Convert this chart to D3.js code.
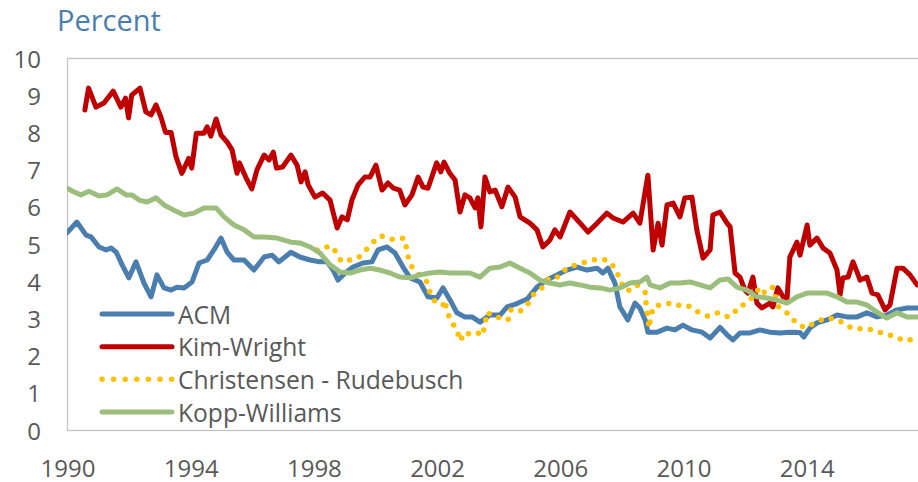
<!DOCTYPE html>
<html>
<head>
<meta charset="utf-8">
<script src="https://cdn.jsdelivr.net/npm/d3@7"></script>
<style>
  body { margin: 0; background: #fff; }
  svg { display: block; font-family: "Open Sans", "Noto Sans", sans-serif; }
  .tick-label { fill: #595959; font-size: 24px; }
  .legend-label { fill: #595959; font-size: 24.6px; }
</style>
</head>
<body>
<svg></svg>
<script>
// series values, [year, percent]
var acm = [
  [1990.0,5.30],[1990.32,5.59],[1990.62,5.24],[1990.78,5.19],[1991.04,4.92],[1991.27,4.84],
  [1991.43,4.89],[1991.6,4.78],[1991.79,4.44],[1992.01,4.09],[1992.24,4.52],[1992.5,3.95],
  [1992.73,3.58],[1992.92,4.17],[1993.15,3.82],[1993.38,3.76],[1993.57,3.84],[1993.8,3.82],
  [1994.06,3.98],[1994.29,4.49],[1994.55,4.57],[1994.77,4.84],[1995.0,5.16],[1995.2,4.78],
  [1995.42,4.57],[1995.75,4.57],[1996.07,4.30],[1996.4,4.65],[1996.66,4.70],[1996.88,4.52],
  [1997.27,4.78],[1997.56,4.65],[1997.89,4.57],[1998.21,4.52],[1998.44,4.52],[1998.64,4.30],
  [1998.8,4.03],[1999.03,4.22],[1999.29,4.38],[1999.61,4.49],[1999.9,4.52],[2000.1,4.84],
  [2000.39,4.92],[2000.65,4.76],[2000.91,4.38],[2001.14,4.09],[2001.46,3.98],[2001.72,3.58],
  [2002.01,3.55],[2002.21,3.82],[2002.44,3.49],[2002.66,3.15],[2002.92,3.04],[2003.15,3.04],
  [2003.41,2.90],[2003.73,3.09],[2004.06,3.09],[2004.29,3.31],[2004.61,3.40],[2004.94,3.52],
  [2005.26,3.84],[2005.58,4.03],[2005.91,4.17],[2006.23,4.30],[2006.56,4.38],[2006.88,4.30],
  [2007.21,4.35],[2007.4,4.22],[2007.56,4.35],[2007.79,3.95],[2007.95,3.31],[2008.21,2.96],
  [2008.44,3.41],[2008.6,3.28],[2008.77,2.96],[2008.86,2.63],[2009.16,2.63],[2009.48,2.74],
  [2009.74,2.69],[2010.0,2.82],[2010.29,2.69],[2010.62,2.63],[2010.88,2.47],[2011.2,2.76],
  [2011.43,2.56],[2011.62,2.42],[2011.85,2.61],[2012.18,2.61],[2012.5,2.69],[2012.82,2.63],
  [2013.15,2.61],[2013.47,2.63],[2013.8,2.62],[2013.92,2.50],[2014.12,2.74],[2014.35,2.88],
  [2014.68,2.96],[2015.0,3.09],[2015.32,3.04],[2015.65,3.04],[2015.97,3.15],[2016.3,3.04],
  [2016.62,3.09],[2016.95,3.23],[2017.27,3.28],[2017.6,3.28]
];

var kimWright = [
  [1990.58,8.60],[1990.70,9.19],[1990.94,8.68],[1991.20,8.79],[1991.50,9.11],[1991.75,8.68],
  [1991.90,8.92],[1992.00,8.39],[1992.10,9.00],[1992.37,9.19],[1992.56,8.55],[1992.73,8.47],
  [1992.89,8.74],[1993.05,8.41],[1993.20,8.00],[1993.38,8.00],[1993.54,7.34],[1993.73,6.90],
  [1993.95,7.30],[1994.05,7.04],[1994.20,7.98],[1994.45,7.98],[1994.55,8.15],[1994.67,7.90],
  [1994.84,8.36],[1995.00,7.93],[1995.20,7.74],[1995.36,7.53],[1995.52,6.90],[1995.60,7.18],
  [1995.80,6.80],[1996.00,6.48],[1996.17,7.00],[1996.40,7.39],[1996.56,7.26],[1996.70,7.47],
  [1996.80,7.04],[1997.00,7.07],[1997.27,7.39],[1997.47,7.12],[1997.60,6.67],[1997.73,6.94],
  [1997.83,6.59],[1998.05,6.26],[1998.30,6.37],[1998.54,6.18],[1998.77,5.43],[1998.93,5.73],
  [1999.10,5.65],[1999.25,6.18],[1999.45,6.59],[1999.67,6.80],[1999.84,6.80],[2000.03,7.12],
  [2000.23,6.45],[2000.42,6.64],[2000.60,6.50],[2000.80,6.45],[2000.97,6.05],[2001.20,6.32],
  [2001.40,6.80],[2001.56,6.53],[2001.72,6.50],[2002.00,7.18],[2002.14,6.94],[2002.24,7.20],
  [2002.43,6.90],[2002.60,6.72],[2002.76,5.86],[2002.92,6.32],[2003.08,6.24],[2003.25,5.97],
  [2003.34,6.24],[2003.44,5.46],[2003.57,6.80],[2003.73,6.40],[2003.90,6.45],[2004.12,6.00],
  [2004.32,6.53],[2004.55,6.26],[2004.71,5.73],[2005.03,5.56],[2005.26,5.38],[2005.45,4.92],
  [2005.68,5.11],[2005.84,5.38],[2006.01,5.19],[2006.33,5.86],[2006.66,5.56],[2006.92,5.32],
  [2007.21,5.56],[2007.53,5.83],[2007.73,5.70],[2008.05,5.59],[2008.38,5.83],[2008.60,5.56],
  [2008.86,6.85],[2009.03,4.84],[2009.19,5.56],[2009.32,4.97],[2009.48,6.05],[2009.68,6.10],
  [2009.90,5.73],[2010.06,6.24],[2010.29,6.26],[2010.45,5.38],[2010.65,4.62],[2010.88,4.84],
  [2010.97,5.78],[2011.20,5.86],[2011.43,5.56],[2011.53,5.46],[2011.69,4.22],[2011.85,4.11],
  [2012.01,3.76],[2012.11,3.68],[2012.27,4.11],[2012.40,3.41],[2012.56,3.28],[2012.82,3.41],
  [2012.92,3.31],[2013.08,3.82],[2013.25,3.58],[2013.38,3.55],[2013.47,4.65],[2013.70,5.05],
  [2013.80,4.70],[2014.03,5.51],[2014.12,4.97],[2014.35,5.16],[2014.55,4.89],[2014.77,4.76],
  [2015.00,4.30],[2015.10,3.63],[2015.19,4.09],[2015.36,4.11],[2015.52,4.52],[2015.65,4.25],
  [2015.75,4.03],[2015.97,4.11],[2016.14,3.68],[2016.33,3.63],[2016.56,3.23],[2016.72,3.36],
  [2016.95,4.35],[2017.14,4.35],[2017.37,4.17],[2017.60,3.90]
];

var christensenRudebusch = [
  [1998.12,4.84],[1998.31,4.92],[1998.64,4.92],[1998.8,4.65],[1998.93,4.52],[1999.19,4.57],
  [1999.45,4.62],[1999.71,4.84],[1999.94,5.05],[2000.19,5.22],[2000.39,5.16],[2000.65,5.11],
  [2000.94,5.16],[2001.04,4.84],[2001.1,4.52],[2001.27,4.30],[2001.69,3.98],[2001.79,3.68],
  [2001.98,3.41],[2002.21,3.36],[2002.27,3.49],[2002.34,3.17],[2002.5,2.88],[2002.66,2.69],
  [2002.76,2.39],[2002.92,2.63],[2003.15,2.55],[2003.41,2.61],[2003.5,2.55],[2003.64,3.17],
  [2003.83,3.04],[2004.12,3.01],[2004.32,2.96],[2004.38,3.23],[2004.68,3.17],[2004.94,3.36],
  [2005.13,3.63],[2005.42,3.82],[2005.68,4.11],[2005.94,4.11],[2006.23,4.35],[2006.53,4.44],
  [2006.88,4.52],[2007.21,4.60],[2007.53,4.57],[2007.82,4.33],[2007.95,4.03],[2008.11,3.76],
  [2008.28,3.76],[2008.5,3.90],[2008.77,3.71],[2008.8,3.41],[2008.85,3.09],[2008.9,2.74],
  [2008.96,3.09],[2009.06,3.33],[2009.42,3.39],[2009.71,3.41],[2009.97,3.31],[2010.19,3.33],
  [2010.49,3.17],[2010.81,3.06],[2011.14,3.15],[2011.43,3.05],[2011.62,3.09],[2011.79,3.31],
  [2011.95,3.36],[2012.24,3.55],[2012.5,3.84],[2012.66,3.68],[2012.92,3.84],[2013.08,3.33],
  [2013.47,3.09],[2013.67,2.88],[2013.96,2.74],[2014.29,2.88],[2014.61,3.01],[2015.0,2.98],
  [2015.19,2.88],[2015.52,2.72],[2015.84,2.72],[2016.2,2.69],[2016.53,2.58],[2016.85,2.53],
  [2017.18,2.39],[2017.53,2.45]
];

var koppWilliams = [
  [1990.0,6.50],[1990.23,6.40],[1990.45,6.32],[1990.71,6.42],[1991.04,6.29],[1991.3,6.32],
  [1991.62,6.48],[1991.92,6.32],[1992.11,6.32],[1992.34,6.18],[1992.6,6.13],[1992.89,6.24],
  [1993.15,6.05],[1993.47,5.91],[1993.8,5.78],[1994.12,5.83],[1994.45,5.97],[1994.84,5.97],
  [1995.1,5.73],[1995.42,5.51],[1995.75,5.38],[1996.07,5.19],[1996.4,5.19],[1996.82,5.16],
  [1997.27,5.05],[1997.56,5.03],[1997.89,4.92],[1998.21,4.76],[1998.54,4.44],[1998.86,4.25],
  [1999.19,4.22],[1999.51,4.30],[1999.84,4.35],[2000.16,4.30],[2000.49,4.22],[2000.81,4.11],
  [2001.14,4.09],[2001.46,4.17],[2001.79,4.22],[2002.11,4.25],[2002.44,4.22],[2002.76,4.22],
  [2003.08,4.22],[2003.41,4.11],[2003.73,4.35],[2004.06,4.38],[2004.38,4.49],[2004.71,4.35],
  [2005.03,4.22],[2005.36,4.03],[2005.68,3.95],[2006.0,3.90],[2006.33,3.95],[2006.66,3.90],
  [2006.98,3.84],[2007.31,3.82],[2007.63,3.76],[2007.95,3.82],[2008.28,3.95],[2008.6,3.98],
  [2008.83,4.11],[2008.93,3.90],[2009.25,3.82],[2009.58,3.95],[2009.9,3.95],[2010.23,3.98],
  [2010.55,3.90],[2010.88,3.82],[2011.2,4.03],[2011.46,4.06],[2011.75,3.84],[2012.08,3.76],
  [2012.4,3.58],[2012.73,3.55],[2013.05,3.49],[2013.38,3.41],[2013.7,3.58],[2014.03,3.68],
  [2014.35,3.68],[2014.68,3.68],[2015.0,3.58],[2015.32,3.44],[2015.65,3.44],[2015.97,3.36],
  [2016.3,3.17],[2016.62,3.01],[2016.95,3.15],[2017.27,3.04],[2017.6,3.04]
];

var seriesNames = ["ACM", "Kim-Wright", "Christensen - Rudebusch", "Kopp-Williams"];
var seriesData = [acm, kimWright, christensenRudebusch, koppWilliams];
var yTicks = [0, 1, 2, 3, 4, 5, 6, 7, 8, 9, 10];
var xTicks = [1990, 1994, 1998, 2002, 2006, 2010, 2014];

var colors = ["#4a7eae", "#c00000", "#ffc000", "#9bbe7d"];
var dotted = [false, false, true, false];

var W = 918, H = 482;
var plot = {left: 67, right: 918, top: 58, bottom: 430};

var svg = d3.select('svg')
    .attr('width', W)
    .attr('height', H);

var x = d3.scaleLinear().domain([1990, 2017.63]).range([plot.left, plot.right]);
var y = d3.scaleLinear().domain([0, 10]).range([plot.bottom, plot.top]);

// plot frame
svg.append('rect')
    .attr('x', plot.left + 0.5)
    .attr('y', plot.top + 0.5)
    .attr('width', plot.right - plot.left + 10)
    .attr('height', plot.bottom - plot.top)
    .attr('fill', 'none')
    .attr('stroke', '#c4c4c4')
    .attr('stroke-width', 1.3);

svg.append('text')
    .text('Percent')
    .attr('x', 57)
    .attr('y', 31)
    .attr('fill', '#4a7eae')
    .style('font-size', '29px');

// y axis labels
svg.append('g')
    .selectAll('text')
    .data(yTicks)
    .enter().append('text')
    .attr('class', 'tick-label')
    .attr('x', 41)
    .attr('y', function(d) { return y(d); })
    .attr('text-anchor', 'end')
    .attr('dominant-baseline', 'central')
    .text(function(d) { return d; });

// x axis labels
svg.append('g')
    .selectAll('text')
    .data(xTicks)
    .enter().append('text')
    .attr('class', 'tick-label')
    .attr('x', function(d) { return x(d) + 1; })
    .attr('y', 467)
    .attr('text-anchor', 'middle')
    .attr('dominant-baseline', 'central')
    .text(function(d) { return d; });

var line = d3.line()
    .x(function(d) { return x(d[0]); })
    .y(function(d) { return y(d[1]); });

svg.append('clipPath').attr('id', 'plotclip')
    .append('rect')
    .attr('x', plot.left).attr('y', plot.top - 10)
    .attr('width', plot.right - plot.left).attr('height', plot.bottom - plot.top + 10);

var lines = svg.append('g').attr('clip-path', 'url(#plotclip)');

seriesData.forEach(function(s, i) {
    var p = lines.append('path')
        .datum(s)
        .attr('d', line)
        .attr('fill', 'none')
        .attr('stroke', colors[i])
        .attr('stroke-linejoin', 'round')
        .attr('stroke-linecap', 'round');
    if (dotted[i]) {
        p.attr('stroke-width', 5.5).attr('stroke-dasharray', '0,10.5');
    } else {
        p.attr('stroke-width', 5);
    }
});

// legend
var legend = svg.append('g');
var legendY = [314, 346.7, 379.3, 412];

seriesNames.forEach(function(name, i) {
    var l = legend.append('line')
        .attr('x1', 102).attr('x2', 172)
        .attr('y1', legendY[i]).attr('y2', legendY[i])
        .attr('stroke', colors[i])
        .attr('stroke-linecap', 'round');
    if (dotted[i]) {
        l.attr('stroke-width', 5.5).attr('stroke-dasharray', '0,11.6');
    } else {
        l.attr('stroke-width', 5);
    }
    legend.append('text')
        .attr('class', 'legend-label')
        .attr('x', 178)
        .attr('y', legendY[i])
        .attr('dominant-baseline', 'central')
        .text(name);
});
</script>
</body>
</html>
